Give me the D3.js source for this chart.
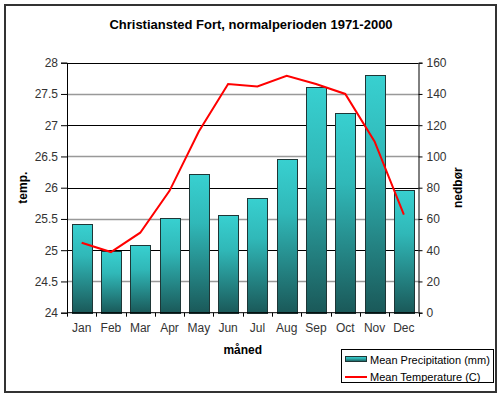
<!DOCTYPE html>
<html>
<head>
<meta charset="utf-8">
<script src="https://cdn.jsdelivr.net/npm/d3@7"></script>
<style>
  body { margin: 0; background: #fff; }
  text { font-family: Arial, "Liberation Sans", sans-serif; }
</style>
</head>
<body>
<div id="chart"></div>
<script>
// Data
const months = ['Jan', 'Feb', 'Mar', 'Apr', 'May', 'Jun', 'Jul', 'Aug', 'Sep', 'Oct', 'Nov', 'Dec'];
const precipitation = [56.6, 39.5, 43.1, 60.6, 88.9, 62.3, 73.3, 98.3, 144.2, 127.6, 152.1, 78.5];
const temperature = [25.12, 24.97, 25.28, 25.95, 26.9, 27.66, 27.62, 27.79, 27.66, 27.5, 26.74, 25.57];
const tempTicks = [24, 24.5, 25, 25.5, 26, 26.5, 27, 27.5, 28];
const precipTicks = [0, 20, 40, 60, 80, 100, 120, 140, 160];

const width = 504, height = 398;
const plot = { left: 67, right: 418.5, top: 62.7, bottom: 312.7 };

const svg = d3.select('#chart')
  .append('svg')
  .attr('width', width)
  .attr('height', height);

// Bar gradient
const defs = svg.append('defs');
const grad = defs.append('linearGradient')
  .attr('id', 'barGrad')
  .attr('x1', 0).attr('y1', 0).attr('x2', 0).attr('y2', 1);
grad.append('stop').attr('offset', '0%').attr('stop-color', '#38d0d0');
grad.append('stop').attr('offset', '35%').attr('stop-color', '#30b8b8');
grad.append('stop').attr('offset', '100%').attr('stop-color', '#1a5858');

// Outer frame
svg.append('rect')
  .attr('x', 5).attr('y', 5)
  .attr('width', 491).attr('height', 387)
  .attr('fill', '#fff')
  .attr('stroke', '#333')
  .attr('stroke-width', 2);

// Scales
const x = d3.scaleBand()
  .domain(months)
  .range([plot.left, plot.right])
  .paddingInner(0.316)
  .paddingOuter(0.158);

const xBand = d3.scaleBand()
  .domain(months)
  .range([plot.left, plot.right]);

const yTemp = d3.scaleLinear().domain([24, 28]).range([plot.bottom, plot.top]);
const yPrecip = d3.scaleLinear().domain([0, 160]).range([plot.bottom, plot.top]);

// Gridlines: integers black, halves gray
svg.append('g')
  .selectAll('line')
  .data(tempTicks.filter(t => t !== 24))
  .join('line')
  .attr('x1', plot.left).attr('x2', plot.right)
  .attr('y1', d => Math.round(yTemp(d)) + 0.5)
  .attr('y2', d => Math.round(yTemp(d)) + 0.5)
  .attr('stroke', d => Number.isInteger(d) ? '#000' : '#999')
  .attr('stroke-width', d => Number.isInteger(d) ? 1 : 1.6);

// Bars
svg.append('g')
  .selectAll('rect')
  .data(precipitation)
  .join('rect')
  .attr('x', (d, i) => Math.round(x(months[i])) + 0.5)
  .attr('y', d => Math.round(yPrecip(d)) + 0.5)
  .attr('width', Math.round(x.bandwidth()))
  .attr('height', d => Math.round(plot.bottom) - Math.round(yPrecip(d)))
  .attr('fill', 'url(#barGrad)')
  .attr('stroke', '#1e3636')
  .attr('stroke-width', 1);

// Temperature line
const line = d3.line()
  .x((d, i) => xBand(months[i]) + xBand.bandwidth() / 2)
  .y(d => yTemp(d));

svg.append('path')
  .datum(temperature)
  .attr('d', line)
  .attr('fill', 'none')
  .attr('stroke', '#ff0000')
  .attr('stroke-width', 2);

// Axes
const tickColor = '#000';
const labelColor = '#333';

const leftAxis = svg.append('g')
  .attr('transform', `translate(${plot.left},0)`)
  .call(d3.axisLeft(yTemp).tickValues(tempTicks).tickFormat(d3.format('')).tickSize(6).tickPadding(3));

const rightAxis = svg.append('g')
  .attr('transform', `translate(${plot.right},0)`)
  .call(d3.axisRight(yPrecip).tickValues(precipTicks).tickSize(4).tickPadding(4));

const bottomAxis = svg.append('g')
  .attr('transform', `translate(0,${plot.bottom})`)
  .call(d3.axisBottom(xBand).tickSize(0).tickPadding(11));

// Tick marks at category boundaries
svg.append('g')
  .selectAll('line')
  .data(d3.range(months.length + 1))
  .join('line')
  .attr('x1', i => Math.round(plot.left + i * xBand.bandwidth()) + 0.5)
  .attr('x2', i => Math.round(plot.left + i * xBand.bandwidth()) + 0.5)
  .attr('y1', plot.bottom)
  .attr('y2', plot.bottom + 4)
  .attr('stroke', tickColor);

[leftAxis, rightAxis, bottomAxis].forEach(a => {
  a.selectAll('.domain').attr('stroke', tickColor);
  a.selectAll('.tick line').attr('stroke', tickColor);
  a.selectAll('.tick text')
    .attr('fill', labelColor)
    .attr('font-size', '12px')
    .style('font-family', 'Arial, "Liberation Sans", sans-serif');
});
bottomAxis.select('.domain').remove();
svg.append('line')
  .attr('x1', plot.left).attr('x2', plot.right)
  .attr('y1', plot.bottom).attr('y2', plot.bottom)
  .attr('stroke', tickColor);

// Title
svg.append('text')
  .attr('x', 251).attr('y', 29)
  .attr('text-anchor', 'middle')
  .attr('font-size', '13px')
  .attr('font-weight', 'bold')
  .attr('fill', '#000')
  .text('Christiansted Fort, normalperioden 1971-2000');

// Axis titles
svg.append('text')
  .attr('transform', `translate(27,${(plot.top + plot.bottom) / 2}) rotate(-90)`)
  .attr('text-anchor', 'middle')
  .attr('font-size', '12px')
  .attr('font-weight', 'bold')
  .text('temp.');

svg.append('text')
  .attr('transform', `translate(462,${(plot.top + plot.bottom) / 2}) rotate(-90)`)
  .attr('text-anchor', 'middle')
  .attr('font-size', '12px')
  .attr('font-weight', 'bold')
  .text('nedbør');

svg.append('text')
  .attr('x', (plot.left + plot.right) / 2).attr('y', 354)
  .attr('text-anchor', 'middle')
  .attr('font-size', '12px')
  .attr('font-weight', 'bold')
  .text('måned');

// Legend
const legend = svg.append('g');
legend.append('rect')
  .attr('x', 341.5).attr('y', 349.5)
  .attr('width', 152).attr('height', 33)
  .attr('fill', '#fff')
  .attr('stroke', '#000');

legend.append('rect')
  .attr('x', 345.5).attr('y', 356.5)
  .attr('width', 21).attr('height', 5)
  .attr('fill', 'url(#barGrad)')
  .attr('stroke', '#1e3636');
legend.append('text')
  .attr('x', 370).attr('y', 364)
  .attr('font-size', '11px')
  .attr('fill', '#000')
  .text('Mean Precipitation (mm)');

legend.append('line')
  .attr('x1', 345).attr('x2', 367)
  .attr('y1', 377).attr('y2', 377)
  .attr('stroke', '#ff0000')
  .attr('stroke-width', 2);
legend.append('text')
  .attr('x', 370).attr('y', 381)
  .attr('font-size', '11px')
  .attr('fill', '#000')
  .text('Mean Temperature (C)');
</script>
</body>
</html>
